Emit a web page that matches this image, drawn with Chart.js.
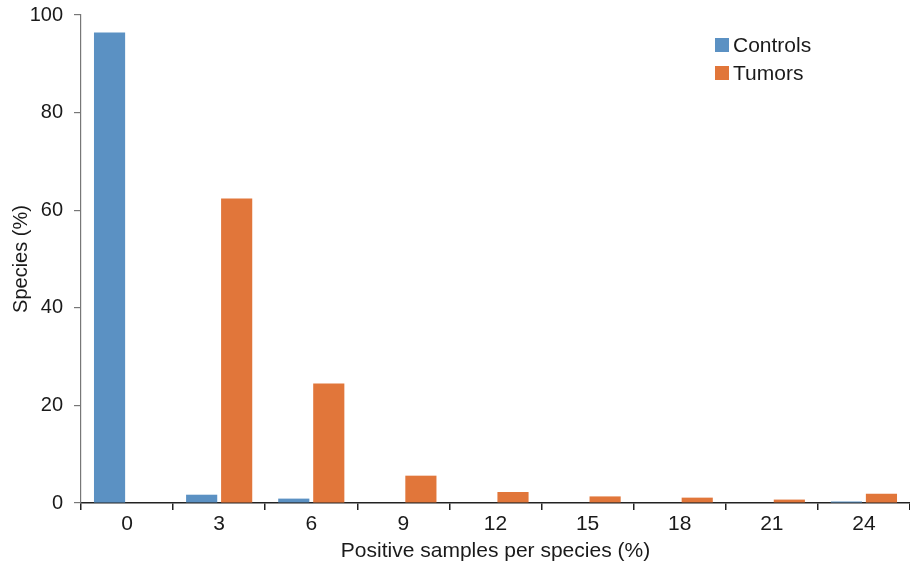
<!DOCTYPE html>
<html>
<head>
<meta charset="utf-8">
<script src="https://cdn.jsdelivr.net/npm/chart.js@4/dist/chart.umd.min.js"></script>
<style>
  html, body { margin: 0; padding: 0; background: #fff; }
  #wrap { width: 910px; height: 569px; }
</style>
</head>
<body>
<div id="wrap"><canvas id="grafico"></canvas></div>
<script>
// dados
const categorias = ['0', '3', '6', '9', '12', '15', '18', '21', '24'];
const controles = [96.4, 1.7, 0.9, 0, 0, 0, 0, 0, 0.3];
const tumores = [0, 62.4, 24.5, 5.6, 2.25, 1.35, 1.1, 0.7, 1.9];
const nomesSeries = ['Controls', 'Tumors'];
const coresSeries = ['#5b91c3', '#e1763a'];

const fonte = { family: '"Liberation Sans", Arial, sans-serif', size: 21 };
const fonteY = { family: '"Liberation Sans", Arial, sans-serif', size: 20 };

// legenda desenhada dentro da área do gráfico, canto superior direito
const legendaInterna = {
  id: 'legendaInterna',
  afterDraw(chart) {
    const ctx = chart.ctx;
    const area = chart.chartArea;
    ctx.save();
    ctx.font = '21px "Liberation Sans", Arial, sans-serif';
    ctx.textBaseline = 'middle';
    chart.data.datasets.forEach((ds, i) => {
      const x = area.right - 195;
      const y = area.top + 30 + i * 28;
      ctx.fillStyle = ds.backgroundColor;
      ctx.fillRect(x, y - 7, 14, 14);
      ctx.fillStyle = '#1a1a1a';
      ctx.fillText(ds.label, x + 18, y + 1);
    });
    ctx.restore();
  }
};

const grafico = new Chart(document.getElementById('grafico'), {
  type: 'bar',
  data: {
    labels: categorias,
    datasets: [
      { label: nomesSeries[0], data: controles, backgroundColor: coresSeries[0] },
      { label: nomesSeries[1], data: tumores, backgroundColor: coresSeries[1] }
    ]
  },
  options: {
    responsive: true,
    maintainAspectRatio: false,
    animation: false,
    categoryPercentage: 0.76,
    barPercentage: 0.89,
    layout: { padding: { top: 15, right: 0, bottom: 0, left: 0 } },
    plugins: {
      legend: { display: false },
      tooltip: { enabled: false }
    },
    scales: {
      x: {
        grid: { offset: true, drawOnChartArea: false, tickLength: 7, color: '#222', lineWidth: 1.5 },
        border: { color: '#222', width: 1.5 },
        ticks: { color: '#1a1a1a', font: fonte, padding: 2, maxRotation: 0 },
        title: { display: true, text: 'Positive samples per species (%)', color: '#1a1a1a', font: fonte, padding: { top: 2, bottom: 5 } },
        afterFit(scale) { scale.height = 66; scale.paddingLeft = 0; scale.paddingRight = 0; }
      },
      y: {
        min: 0,
        max: 100,
        grid: { drawOnChartArea: false, tickLength: 7, color: '#777', lineWidth: 1.2 },
        border: { color: '#777', width: 1.2 },
        ticks: { stepSize: 20, color: '#1a1a1a', font: fonteY, padding: 11 },
        title: { display: true, text: 'Species (%)', color: '#1a1a1a', font: fonteY, padding: { top: 9, bottom: 4 } },
        afterFit(scale) { scale.width = 81; scale.paddingTop = 0; scale.paddingBottom = 0; }
      }
    }
  },
  plugins: [legendaInterna]
});
</script>
</body>
</html>
